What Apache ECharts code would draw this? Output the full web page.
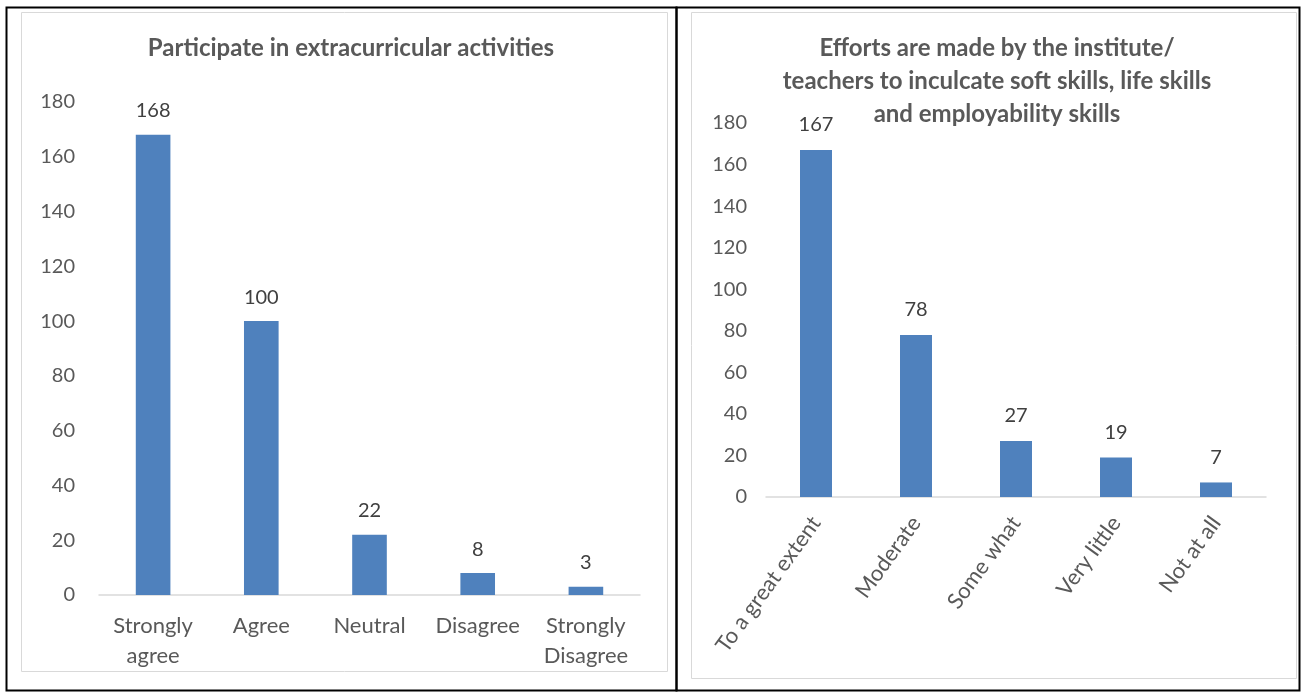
<!DOCTYPE html>
<html>
<head>
<meta charset="utf-8">
<script src="https://cdn.jsdelivr.net/npm/echarts@6/dist/echarts.min.js"></script>
<style>
html,body{margin:0;padding:0;background:#fff;}
#c{width:1305px;height:693px;}
</style>
</head>
<body>
<div id="c"></div>
<script>
const leftTitle = "Participate in extracurricular activities";
const leftCategories = ["Strongly\nagree", "Agree", "Neutral", "Disagree", "Strongly\nDisagree"];
const leftValues = [168, 100, 22, 8, 3];

const rightTitle = "Efforts are made by the institute/\nteachers to inculcate soft skills, life skills\nand employability skills";
const rightCategories = ["To a great extent", "Moderate", "Some what", "Very little", "Not at all"];
const rightValues = [167, 78, 27, 19, 7];

const yTicks = [0, 20, 40, 60, 80, 100, 120, 140, 160, 180];

const FONT = "Lato";
const TXT = "#595959";
const BAR = "#4F81BD";

const chart = echarts.init(document.getElementById('c'));

function frame(x, y, w, h, color, lw) {
  return {type:'rect', shape:{x:x, y:y, width:w, height:h}, style:{fill:null, stroke:color, lineWidth:lw}, silent:true, z:-1};
}

function yAxis(grid, margin) {
  return {
    gridIndex:grid, type:'value', min:yTicks[0], max:yTicks[yTicks.length-1], interval:yTicks[1]-yTicks[0],
    axisLine:{show:false}, axisTick:{show:false}, splitLine:{show:false},
    axisLabel:{color:TXT, fontFamily:FONT, fontSize:20, margin:margin}
  };
}

chart.setOption({
  animation:false,
  textStyle:{fontFamily:FONT},
  graphic:[
    frame(6.5, 7.5, 670, 683, '#000', 2),
    frame(676.5, 7.5, 623, 683, '#000', 2),
    frame(21.5, 12.5, 646, 659, '#D9D9D9', 1),
    frame(691.5, 12.5, 605, 666, '#D9D9D9', 1)
  ],
  title:[
    {text:leftTitle, left:346, top:31, textAlign:'center',
     textStyle:{color:TXT, fontFamily:FONT, fontSize:24, fontWeight:'bold'}},
    {text:rightTitle, left:992, top:27, textAlign:'center',
     textStyle:{color:TXT, fontFamily:FONT, fontSize:24, fontWeight:'bold', lineHeight:33}}
  ],
  grid:[
    {left:99, right:665, top:102, bottom:98},
    {left:766, right:39, top:123, bottom:196}
  ],
  xAxis:[
    {type:'category', gridIndex:0, data:leftCategories,
     axisLine:{lineStyle:{color:'#D9D9D9', width:1.5}}, axisTick:{show:false},
     axisLabel:{color:TXT, fontFamily:FONT, fontSize:22, lineHeight:30, margin:16, interval:0}},
    {type:'category', gridIndex:1, data:rightCategories,
     axisLine:{lineStyle:{color:'#D9D9D9', width:1.5}}, axisTick:{show:false},
     axisLabel:{color:TXT, fontFamily:FONT, fontSize:22, margin:22, interval:0, rotate:54}}
  ],
  yAxis:[ yAxis(0, 24), yAxis(1, 19) ],
  series:[
    {type:'bar', xAxisIndex:0, yAxisIndex:0, data:leftValues, barWidth:'32%',
     itemStyle:{color:BAR},
     label:{show:true, position:'top', distance:14, color:'#404040', fontFamily:FONT, fontSize:20}},
    {type:'bar', xAxisIndex:1, yAxisIndex:1, data:rightValues, barWidth:'32%',
     itemStyle:{color:BAR},
     label:{show:true, position:'top', distance:15, color:'#404040', fontFamily:FONT, fontSize:20}}
  ]
});
</script>
</body>
</html>
